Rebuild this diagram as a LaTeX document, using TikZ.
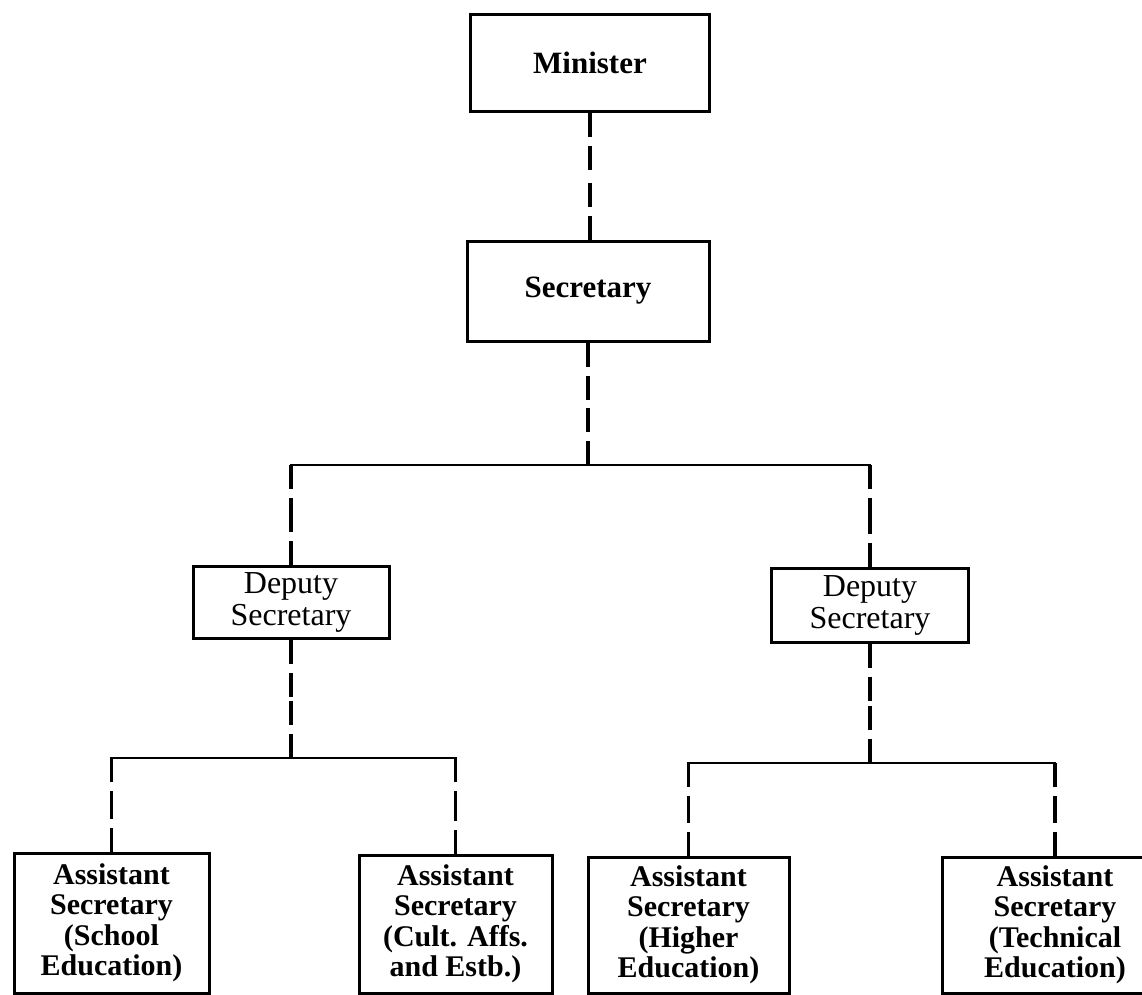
\documentclass[tikz,border=0pt]{standalone}
\usepackage{fontspec}
\setmainfont{Liberation Serif}
\usetikzlibrary{calc}
\newcommand{\chartunit}{1pt}
\newcommand{\headfont}{\fontsize{31}{31}\selectfont\bfseries}
\newcommand{\deputyfont}{\fontsize{32}{32}\selectfont}
\newcommand{\asstfont}{\fontsize{30}{30.5}\selectfont\bfseries}
\newcommand{\dashjoin}[2]{
	\draw[dashlink] (#1) -- ($(#1)!0.5!(#2)$);
	\draw[dashlink] (#2) -- ($(#1)!0.5!(#2)$);
}

\begin{document}
\begin{tikzpicture}[x=\chartunit,y=-\chartunit,
	post/.style={draw, line width=3pt, align=center, inner sep=0pt},
	dashlink/.style={line width=3.2pt, dash pattern=on 24pt off 9pt},
	barlink/.style={line width=2.8pt, line cap=rect}]
	\useasboundingbox (0,0) rectangle (1142,994);

	\node[post, font=\headfont, minimum width=239, minimum height=97] (minister) at (590,63) {Minister};
	\node[post, font=\headfont, minimum width=242, minimum height=100] (secretary) at (588,291) {Secretary};
	\node[post, font=\deputyfont, minimum width=196, minimum height=72] (dleft) at (291,602) {Deputy\\Secretary};
	\node[post, font=\deputyfont, minimum width=197, minimum height=74] (dright) at (870,605) {Deputy\\Secretary};

	\node[post, font=\asstfont, minimum width=195, minimum height=140] (school) at (111.5,923) {Assistant\\Secretary\\(School\\Education)};
	\node[post, font=\asstfont, minimum width=193, minimum height=138] (cult) at (455.5,924) {Assistant\\Secretary\\(Cult. Affs.\\and Estb.)};
	\node[post, font=\asstfont, minimum width=201, minimum height=136] (higher) at (688.5,925) {Assistant\\Secretary\\(Higher\\Education)};
	\node[post, font=\asstfont, minimum width=226, minimum height=136] (technical) at (1055,925) {Assistant\\Secretary\\(Technical\\Education)};

	\coordinate (topbar) at (0,465);
	\coordinate (leftbar) at (0,758);
	\coordinate (rightbar) at (0,763);
	\coordinate (secjoin) at (secretary.south |- topbar);
	\coordinate (dleftjoin) at (dleft.north |- topbar);
	\coordinate (drightjoin) at (dright.north |- topbar);
	\coordinate (dleftfoot) at (dleft.south |- leftbar);
	\coordinate (schooljoin) at (school.north |- leftbar);
	\coordinate (cultjoin) at (cult.north |- leftbar);
	\coordinate (drightfoot) at (dright.south |- rightbar);
	\coordinate (higherjoin) at (higher.north |- rightbar);
	\coordinate (technicaljoin) at (technical.north |- rightbar);
	\coordinate (ministerfoot) at (minister.south |- secretary.north);

	\dashjoin{minister.south}{ministerfoot}
	\dashjoin{secretary.south}{secjoin}
	\draw[barlink] (dleftjoin) -- (drightjoin);
	\dashjoin{dleftjoin}{dleft.north}
	\dashjoin{drightjoin}{dright.north}

	\dashjoin{dleft.south}{dleftfoot}
	\draw[barlink] (schooljoin) -- (cultjoin);
	\dashjoin{schooljoin}{school.north}
	\dashjoin{cultjoin}{cult.north}

	\dashjoin{dright.south}{drightfoot}
	\draw[barlink] (higherjoin) -- (technicaljoin);
	\dashjoin{higherjoin}{higher.north}
	\dashjoin{technicaljoin}{technical.north}
\end{tikzpicture}
\end{document}
